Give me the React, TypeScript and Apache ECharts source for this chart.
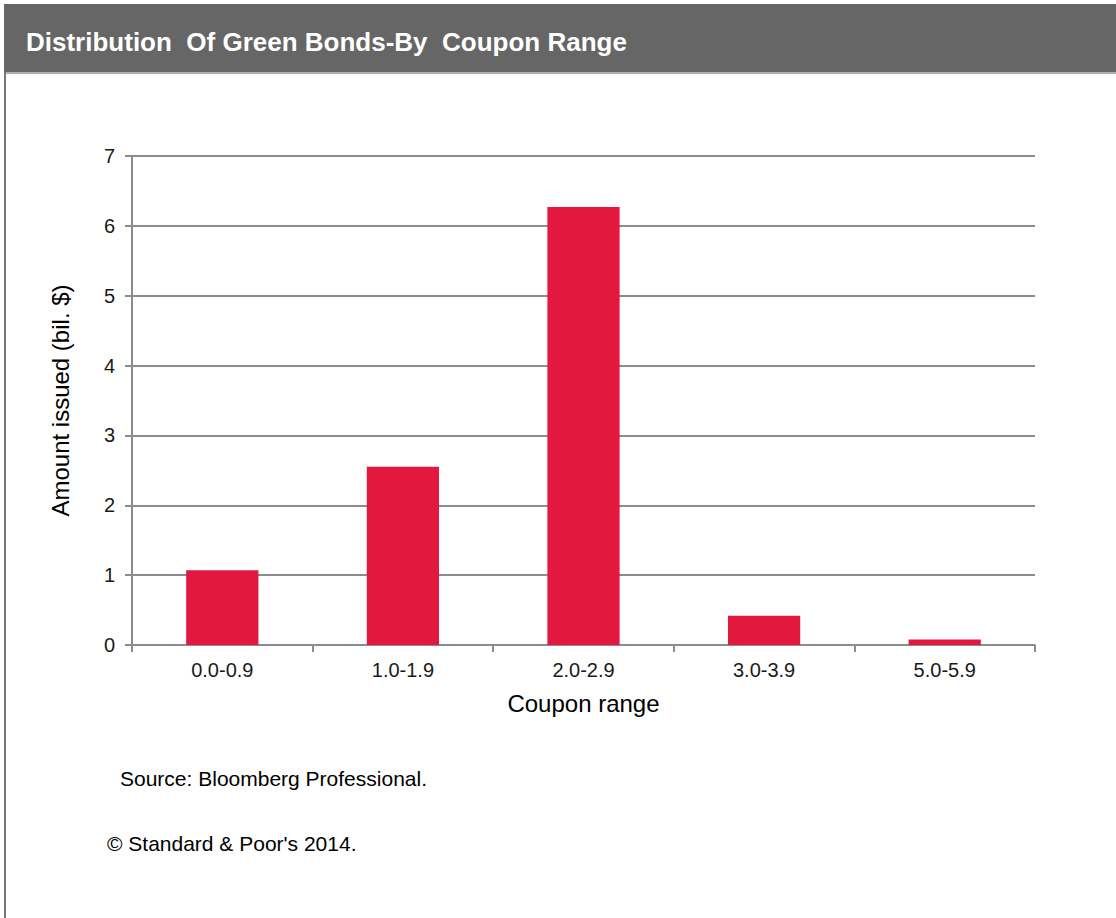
import React, { useEffect, useRef } from "react";
import * as echarts from "echarts";

const categories = ["0.0-0.9", "1.0-1.9", "2.0-2.9", "3.0-3.9", "5.0-5.9"];
const amounts = [1.07, 2.55, 6.27, 0.42, 0.08];
const titleText = "Distribution  Of Green Bonds-By  Coupon Range";
const yAxisName = "Amount issued (bil. $)";
const xAxisName = "Coupon range";
const sourceText = "Source: Bloomberg Professional.";
const copyrightText = "© Standard & Poor's 2014.";

export default function App() {
  const ref = useRef<HTMLDivElement>(null);
  useEffect(() => {
    if (!ref.current) return;
    const chart = echarts.init(ref.current, undefined, { renderer: "svg" });
    const font = "Arial, 'Liberation Sans', sans-serif";
    chart.setOption({
      animation: false,
      backgroundColor: "#ffffff",
      textStyle: { fontFamily: font },
      grid: { left: 132, right: 81, top: 156, bottom: 273, containLabel: false },
      xAxis: {
        type: "category",
        data: categories,
        name: xAxisName,
        nameLocation: "middle",
        nameGap: 46,
        nameTextStyle: { fontSize: 24, color: "#000", fontFamily: font },
        axisLine: { show: true, lineStyle: { color: "#8c8c8c", width: 2 } },
        axisTick: { show: true, alignWithLabel: false, length: 7, lineStyle: { color: "#8c8c8c", width: 2 } },
        axisLabel: { fontSize: 20, color: "#1a1a1a", margin: 15, fontFamily: font },
        splitLine: { show: false },
      },
      yAxis: {
        type: "value",
        min: 0,
        max: 7,
        interval: 1,
        name: yAxisName,
        nameLocation: "middle",
        nameGap: 60,
        nameRotate: 90,
        nameTextStyle: { fontSize: 24, color: "#000", fontFamily: font },
        axisLine: { show: true, lineStyle: { color: "#8c8c8c", width: 2 } },
        axisTick: { show: true, length: 7, lineStyle: { color: "#8c8c8c", width: 2 } },
        axisLabel: { fontSize: 20, color: "#1a1a1a", margin: 17, fontFamily: font },
        splitLine: { show: true, lineStyle: { color: "#8c8c8c", width: 2 } },
      },
      series: [
        {
          type: "bar",
          data: amounts,
          barWidth: "40%",
          itemStyle: { color: "#E2183F" },
        },
      ],
      graphic: [
        {
          type: "rect",
          shape: { x: 4, y: 4, width: 1112, height: 68 },
          style: { fill: "#666666" },
        },
        {
          type: "line",
          shape: { x1: 4, y1: 73, x2: 1116, y2: 73 },
          style: { stroke: "#b0b0b0", lineWidth: 2 },
        },
        {
          type: "line",
          shape: { x1: 5, y1: 72, x2: 5, y2: 918 },
          style: { stroke: "#777777", lineWidth: 2 },
        },
        {
          type: "text",
          x: 26,
          y: 42,
          style: {
            text: titleText,
            fill: "#ffffff",
            font: "bold 26px 'Liberation Sans Narrow', 'Arial Narrow', Arial, 'Liberation Sans', sans-serif",
            textVerticalAlign: "middle",
          },
        },
        {
          type: "text",
          x: 120,
          y: 778,
          style: {
            text: sourceText,
            fill: "#000",
            font: "21px Arial, 'Liberation Sans', sans-serif",
            textVerticalAlign: "middle",
          },
        },
        {
          type: "text",
          x: 107,
          y: 843,
          style: {
            text: copyrightText,
            fill: "#000",
            font: "21px Arial, 'Liberation Sans', sans-serif",
            textVerticalAlign: "middle",
          },
        },
      ],
    });
    return () => chart.dispose();
  }, []);
  return (
    <div
      ref={ref}
      style={{ position: "absolute", left: 0, top: 0, width: 1116, height: 918 }}
    />
  );
}
